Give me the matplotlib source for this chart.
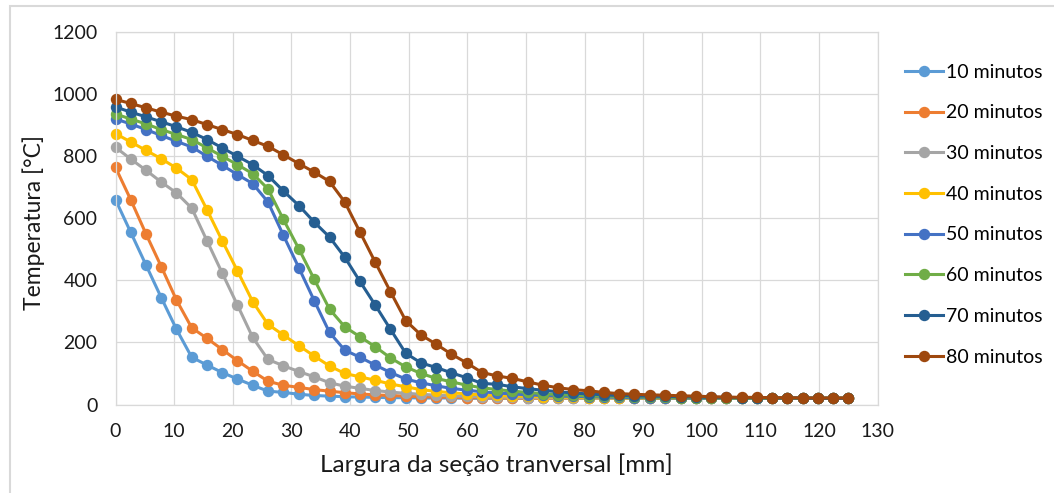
import matplotlib.pyplot as plt
from matplotlib.patches import Rectangle

plt.rcParams['font.family'] = ['Lato', 'DejaVu Sans']

# largura (mm)
x_mm = [0, 2.6, 5.2, 7.8, 10.4, 13.0, 15.6, 18.2, 20.8, 23.4, 26.0, 28.6, 31.3,
        33.9, 36.5, 39.1, 41.7, 44.3, 46.9, 49.5, 52.1, 54.7, 57.3, 59.9, 62.5,
        65.1, 67.7, 70.3, 72.9, 75.5, 78.1, 80.7, 83.3, 85.9, 88.5, 91.1, 93.8,
        96.4, 99.0, 101.6, 104.2, 106.8, 109.4, 112.0, 114.6, 117.2, 119.8,
        122.4, 125.0]

t10 = [659, 554, 449, 344, 242, 152, 127, 103, 82, 62, 43, 39, 33, 29, 27, 25,
       24, 23, 22, 22, 21, 21, 21, 20, 20, 20, 20, 20, 20, 20, 20, 20, 20, 20,
       20, 20, 20, 20, 20, 20, 20, 20, 20, 20, 20, 20, 20, 20, 20]
t20 = [763, 659, 549, 444, 336, 247, 213, 177, 141, 107, 75, 62, 55, 48, 43, 38,
       34, 31, 29, 27, 25, 24, 23, 22, 22, 21, 21, 20, 20, 20, 20, 20, 20, 20,
       20, 20, 20, 20, 20, 20, 20, 20, 20, 20, 20, 20, 20, 20, 20]
t30 = [828, 790, 754, 716, 681, 632, 527, 423, 320, 216, 145, 125, 106, 89, 70,
       59, 52, 45, 40, 36, 33, 30, 28, 26, 25, 24, 23, 22, 22, 21, 21, 20, 20,
       20, 20, 20, 20, 20, 20, 20, 20, 20, 20, 20, 20, 20, 20, 20, 20]
t40 = [872, 845, 818, 791, 761, 724, 627, 527, 430, 331, 258, 224, 189, 156, 124,
       100, 89, 78, 66, 57, 48, 42, 38, 34, 31, 29, 27, 26, 25, 24, 23, 22, 22,
       21, 21, 20, 20, 20, 20, 20, 20, 20, 20, 20, 20, 20, 20, 20, 20]
t50 = [919, 903, 885, 866, 847, 829, 799, 770, 740, 711, 652, 546, 439, 334, 232,
       175, 152, 127, 103, 82, 70, 60, 52, 46, 41, 37, 34, 31, 29, 27, 26, 25,
       24, 23, 22, 22, 21, 21, 20, 20, 20, 20, 20, 20, 20, 20, 20, 20, 20]
t60 = [935, 919, 903, 885, 869, 853, 826, 799, 772, 743, 694, 597, 500, 403, 307,
       250, 218, 186, 150, 121, 100, 84, 73, 62, 54, 48, 43, 39, 35, 32, 30, 28,
       27, 26, 25, 24, 23, 22, 22, 21, 21, 20, 20, 20, 20, 20, 20, 20, 20]
t70 = [958, 941, 926, 910, 894, 876, 853, 826, 799, 772, 737, 688, 640, 587, 539,
       474, 396, 320, 242, 165, 134, 119, 102, 86, 68, 65, 57, 51, 46, 41, 37,
       34, 31, 29, 28, 27, 26, 25, 24, 23, 23, 22, 22, 21, 21, 21, 20, 20, 20]
t80 = [982, 969, 955, 941, 928, 917, 901, 885, 869, 850, 831, 804, 775, 748, 718,
       652, 555, 458, 363, 270, 224, 194, 162, 134, 103, 92, 84, 73, 62, 54, 48,
       44, 39, 35, 33, 31, 30, 28, 27, 25, 24, 23, 23, 22, 22, 21, 21, 21, 21]

series = [t10, t20, t30, t40, t50, t60, t70, t80]
labels = ['10 minutos', '20 minutos', '30 minutos', '40 minutos',
          '50 minutos', '60 minutos', '70 minutos', '80 minutos']
cores = ['#5B9BD5', '#ED7D31', '#A5A5A5', '#FFC000',
         '#4472C4', '#70AD47', '#255E91', '#9E480E']

fig = plt.figure(figsize=(10.54, 4.93), dpi=100)
ax = fig.add_axes([0.1096, 0.1795, 0.7231, 0.7562])

for y, lab, c in zip(series, labels, cores):
    ax.plot(x_mm, y, color=c, lw=2.2, marker='o', markersize=7.2,
            label=lab, clip_on=False)

ax.set_xlim(0, 130)
ax.set_ylim(0, 1200)
ax.set_xticks(range(0, 131, 10))
ax.set_yticks(range(0, 1201, 200))
ax.grid(True, color='#D9D9D9', lw=0.9)
ax.set_axisbelow(True)
for s in ax.spines.values():
    s.set_color('#D9D9D9')
    s.set_linewidth(0.9)
ax.tick_params(length=0, labelsize=14, colors='#1a1a1a')
ax.tick_params(axis='x', pad=13)
ax.tick_params(axis='y', pad=13)

ax.set_xlabel('Largura da seção tranversal [mm]', fontsize=17.5, color='#1a1a1a', labelpad=10)
ax.set_ylabel('Temperatura [°C]', fontsize=16.5, color='#1a1a1a')
ax.yaxis.set_label_coords(-0.0925, 0.488)

ax.legend(loc='upper left', bbox_to_anchor=(0.8587, 0.871), bbox_transform=fig.transFigure,
          frameon=False, fontsize=14, handlelength=1.95, handletextpad=0.15,
          labelspacing=1.22, borderpad=0, borderaxespad=0)

# borda externa do gráfico
fig.patches.append(Rectangle((0.0095, -0.05), 1.1, 0.0378 + 1.0, transform=fig.transFigure,
                             fill=False, edgecolor='#D9D9D9', lw=1.5))

fig.savefig('out.png', dpi=100)
